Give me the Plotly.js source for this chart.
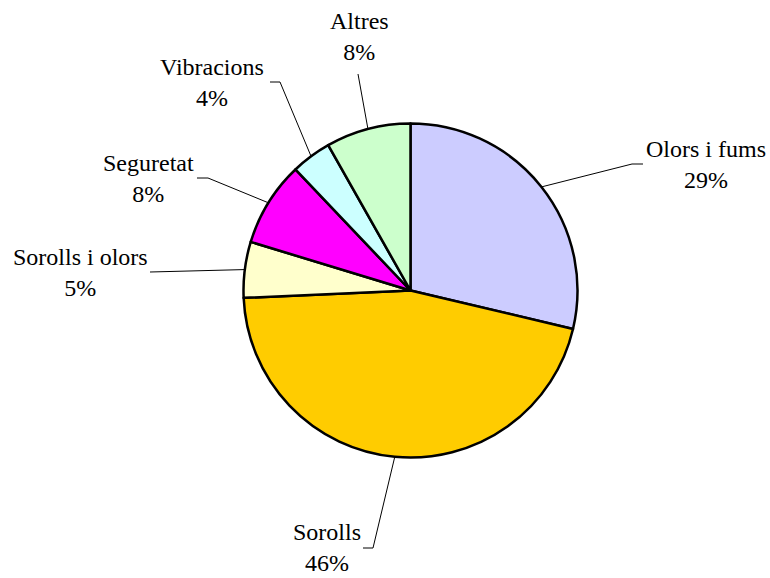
<!DOCTYPE html>
<html>
<head>
<meta charset="utf-8">
<script src="https://cdn.plot.ly/plotly-3.0.1.min.js"></script>
<style>html,body{margin:0;padding:0;background:#fff;}#chart{width:770px;height:578px;}</style>
</head>
<body>
<div id="chart"></div>
<script>
var categories = ["Olors i fums", "Sorolls", "Sorolls i olors", "Seguretat", "Vibracions", "Altres"];
var values = [28.7, 45.6, 5.4, 8.2, 3.9, 8.2];
var colors = ["#CCCCFF", "#FFCC00", "#FFFFCC", "#FF00FF", "#CCFFFF", "#CCFFCC"];

var W = 770, H = 578;
var CX = 410.5, CY = 290.5, R = 167;
var FONT = 'Liberation Serif';
// label centres and leader elbows (pixels)
var labelPos = [[706,164],[327,547.5],[80.5,272.5],[148.5,178],[212,82.5],[359,36.5]];
var elbows = [[[643,164],[632,164]],[[363,548],[373,548]],[[150,272]],[[197,178],[208,178]],[[270,82],[280,82]],[[358,74]]];

function px(x){return x/W;}
function py(y){return 1-y/H;}
function serif(s){return '<span style="font-family:Liberation Serif">' + s + '</span>';}

var total = values.reduce(function(a,b){return a+b;},0);
var annotations = [], shapes = [];
var cum = 0;
for (var i=0;i<values.length;i++){
  var mid = (cum + values[i]/2)/total*2*Math.PI;
  cum += values[i];
  var ex = CX + R*Math.sin(mid), ey = CY - R*Math.cos(mid);
  var pts = elbows[i].concat([[ex,ey]]);
  var d = pts.map(function(p,k){return (k===0?'M':'L')+px(p[0]).toFixed(5)+','+py(p[1]).toFixed(5);}).join(' ');
  shapes.push({type:'path', xref:'paper', yref:'paper', path:d, line:{color:'#000', width:1}, layer:'below'});
  annotations.push({
    xref:'paper', yref:'paper', x:px(labelPos[i][0]), y:py(labelPos[i][1]),
    xanchor:'center', yanchor:'middle', showarrow:false,
    text: serif(categories[i]) + '<br>' + serif(Math.round(values[i]/total*100) + '%'),
    font:{family:FONT, size:24, color:'#000'}
  });
}

var trace = {
  type:'pie', labels:categories, values:values, sort:false, direction:'clockwise', rotation:0,
  marker:{colors:colors, line:{color:'#000', width:2.5}},
  textinfo:'none', hoverinfo:'none', showlegend:false,
  domain:{x:[243.5/W, 577.5/W], y:[1-457.5/H, 1-123.5/H]}
};

var layout = {
  width:W, height:H, margin:{l:0,r:0,t:0,b:0},
  paper_bgcolor:'#fff', plot_bgcolor:'#fff',
  font:{family:FONT},
  showlegend:false, annotations:annotations, shapes:shapes
};
Plotly.newPlot('chart',[trace],layout,{displayModeBar:false, staticPlot:true});
</script>
</body>
</html>
